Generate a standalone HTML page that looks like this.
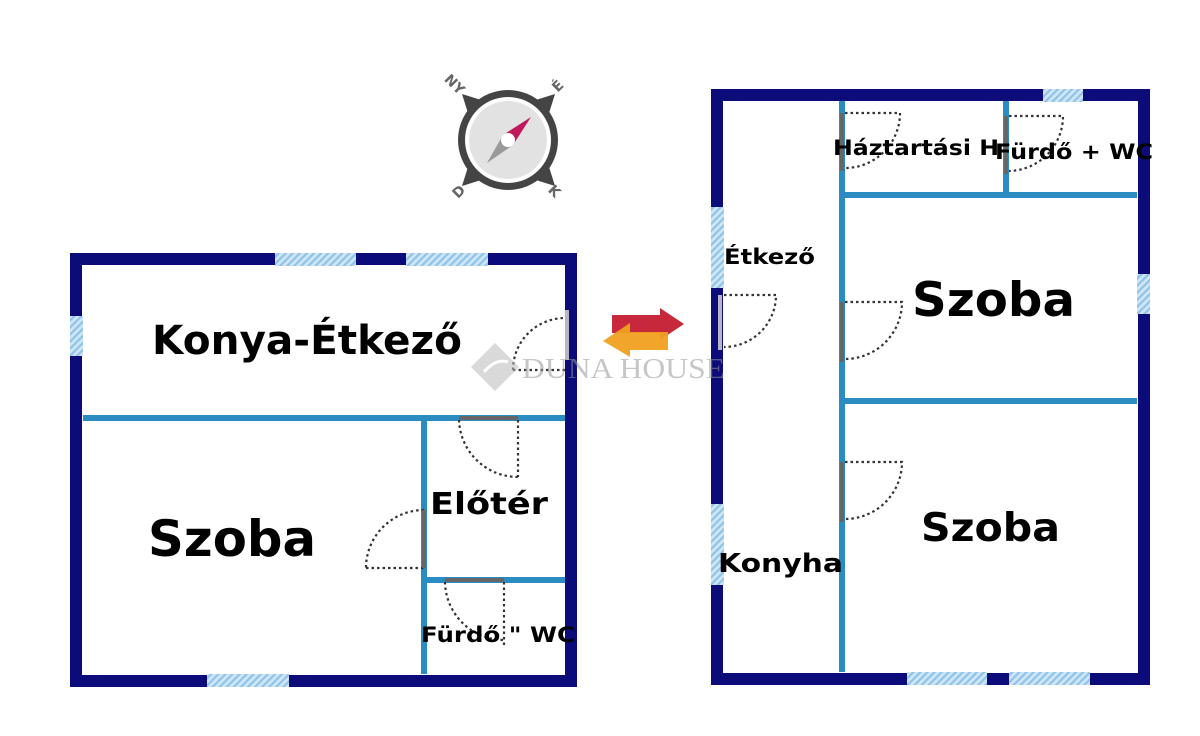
<!DOCTYPE html>
<html><head><meta charset="utf-8"><style>
html,body{margin:0;padding:0;background:#fff;}
svg{display:block}
text{font-family:"DejaVu Sans","Liberation Sans",sans-serif;font-weight:bold;fill:#000}
</style></head><body>
<svg width="1200" height="736" viewBox="0 0 1200 736" xmlns="http://www.w3.org/2000/svg">
<defs>
<pattern id="h" width="5" height="5" patternUnits="userSpaceOnUse" patternTransform="rotate(45)">
<rect width="5" height="5" fill="#cfe6f7"/><rect width="2.2" height="5" fill="#8fc3e8"/>
</pattern>
</defs>
<rect width="1200" height="736" fill="#fff"/>

<!-- LEFT PLAN -->
<rect x="76" y="259" width="495" height="422" fill="none" stroke="#0b0b7a" stroke-width="12"/>
<rect x="275" y="253" width="81" height="13" fill="url(#h)"/>
<rect x="406" y="253" width="82" height="13" fill="url(#h)"/>
<rect x="70" y="316" width="13" height="40" fill="url(#h)"/>
<rect x="207" y="674" width="82" height="13" fill="url(#h)"/>
<g fill="#2a8cc0">
<rect x="83" y="415" width="482" height="6"/>
<rect x="421" y="418" width="6" height="256"/>
<rect x="424" y="577" width="141" height="6"/>
</g>
<g fill="none" stroke="#333" stroke-width="2.2" stroke-dasharray="2.5,3">
<path d="M513,370 A52,52 0 0 1 565,318"/><path d="M513,370 H565"/>
<path d="M459,420 A59,59 0 0 0 518,477"/><path d="M518,420 V477"/>
<path d="M424,510 A58,58 0 0 0 366,568"/><path d="M366,568 H424"/>
<path d="M445,582 A59,59 0 0 0 504,640"/><path d="M504,582 V645"/>
</g>
<rect x="565" y="310" width="4" height="50" fill="#b8b4c8"/>
<rect x="459" y="416" width="59" height="4" fill="#666"/>
<rect x="422" y="510" width="4" height="58" fill="#666"/>
<rect x="445" y="578" width="59" height="4" fill="#666"/>

<text x="152" y="354" font-size="40" textLength="310" lengthAdjust="spacingAndGlyphs">Konya-Étkező</text>
<text x="148" y="556" font-size="50" textLength="168" lengthAdjust="spacingAndGlyphs">Szoba</text>
<text x="430" y="514" font-size="30" textLength="118" lengthAdjust="spacingAndGlyphs">Előtér</text>
<text x="421" y="642" font-size="21" textLength="154" lengthAdjust="spacingAndGlyphs">Fürdő " WC</text>

<!-- RIGHT PLAN -->
<rect x="717" y="95" width="427" height="584" fill="none" stroke="#0b0b7a" stroke-width="12"/>
<rect x="1043" y="89" width="40" height="13" fill="url(#h)"/>
<rect x="711" y="207" width="13" height="81" fill="url(#h)"/>
<rect x="711" y="504" width="13" height="81" fill="url(#h)"/>
<rect x="1137" y="274" width="13" height="40" fill="url(#h)"/>
<rect x="907" y="672" width="80" height="13" fill="url(#h)"/>
<rect x="1009" y="672" width="81" height="13" fill="url(#h)"/>
<g fill="#2a8cc0">
<rect x="839" y="101" width="6" height="571"/>
<rect x="842" y="192" width="295" height="6"/>
<rect x="1003" y="101" width="6" height="94"/>
<rect x="842" y="398" width="295" height="6"/>
</g>
<g fill="none" stroke="#333" stroke-width="2.2" stroke-dasharray="2.5,3">
<path d="M845,113 H900 A55,55 0 0 1 845,168"/>
<path d="M1009,116 H1063 A55,55 0 0 1 1009,171"/>
<path d="M845,302 H902 A57,57 0 0 1 845,359"/>
<path d="M845,462 H902 A57,57 0 0 1 845,519"/>
<path d="M724,295 H776 A52,52 0 0 1 724,347"/>
</g>
<rect x="840" y="113" width="4" height="58" fill="#666"/>
<rect x="1004" y="116" width="4" height="58" fill="#666"/>
<rect x="840" y="302" width="4" height="60" fill="#666"/>
<rect x="840" y="462" width="4" height="60" fill="#666"/>
<rect x="718" y="295" width="4" height="55" fill="#b8b4c8"/>

<text x="833" y="155" font-size="21" textLength="166" lengthAdjust="spacingAndGlyphs">Háztartási H</text>
<text x="995" y="159" font-size="21" textLength="158" lengthAdjust="spacingAndGlyphs">Fürdő + WC</text>
<text x="724" y="264" font-size="21" textLength="91" lengthAdjust="spacingAndGlyphs">Étkező</text>
<text x="912" y="316" font-size="47" textLength="163" lengthAdjust="spacingAndGlyphs">Szoba</text>
<text x="921" y="541" font-size="39" textLength="139" lengthAdjust="spacingAndGlyphs">Szoba</text>
<text x="718" y="572" font-size="26" textLength="125" lengthAdjust="spacingAndGlyphs">Konyha</text>

<!-- watermark -->
<g opacity="0.55">
<rect x="478" y="350" width="34" height="34" transform="rotate(45 495 367)" fill="#bbb"/>
<path d="M484,372 Q496,358 508,362" stroke="#fff" stroke-width="3" fill="none"/>
<text x="522" y="378" font-size="28" textLength="203" lengthAdjust="spacingAndGlyphs" style="font-family:'Liberation Serif',serif;font-weight:normal;fill:#999">DUNA HOUSE</text>
</g>

<!-- arrows -->
<path d="M612,315 H660 V308 L684,324 L660,340 V333 H612 Z" fill="#c8283c"/>
<path d="M668,332 H630 V323 L603,341 L630,357 V350 H668 Z" fill="#f0a020" opacity="0.95"/>

<!-- compass -->
<g>
<polygon points="462,94 494,104 472,126" fill="#444"/>
<polygon points="555,94 523,104 545,126" fill="#444"/>
<polygon points="462,186 472,154 494,176" fill="#444"/>
<polygon points="555,186 545,154 523,176" fill="#444"/>
<circle cx="508" cy="140" r="50" fill="#444"/>
<circle cx="508" cy="140" r="43" fill="#fff"/>
<circle cx="508" cy="140" r="39" fill="#e2e2e2"/>
<polygon points="531,117 503,135 513,145" fill="#c2185b"/>
<polygon points="487,163 503,135 513,145" fill="#999"/>
<circle cx="508" cy="140" r="7" fill="#fff"/>
<text x="446" y="86" font-size="14" transform="rotate(45 452 80)" style="fill:#666">NY</text>
<text x="552" y="91" font-size="14" transform="rotate(-45 557 85)" style="fill:#666">É</text>
<text x="453" y="197" font-size="14" transform="rotate(-45 458 192)" style="fill:#666">D</text>
<text x="550" y="196" font-size="14" transform="rotate(45 555 190)" style="fill:#666">K</text>
</g>
</svg>
</body></html>
